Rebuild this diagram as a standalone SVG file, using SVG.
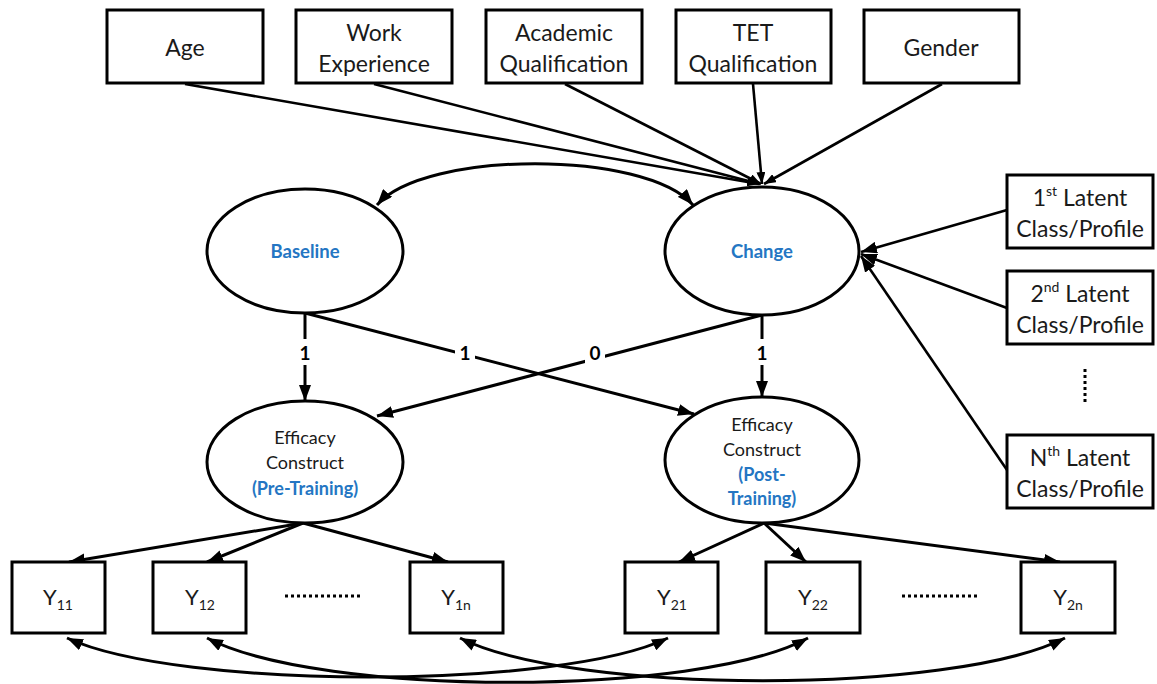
<svg xmlns="http://www.w3.org/2000/svg" width="1157" height="684" viewBox="0 0 1157 684">
  <style>
    .box { fill: #fff; stroke: #000; stroke-width: 3; }
    .ell { fill: #fff; stroke: #000; stroke-width: 3; }
    .lbl { font-family: Lato, "Liberation Sans", sans-serif; font-size: 23px; fill: #1a1a1a; text-anchor: middle; dominant-baseline: central; }
    .lat { font-family: Lato, "Liberation Sans", sans-serif; font-size: 18.5px; font-weight: bold; fill: #2476c3; text-anchor: middle; dominant-baseline: central; }
    .eff { font-family: Lato, "Liberation Sans", sans-serif; font-size: 18px; fill: #1a1a1a; text-anchor: middle; dominant-baseline: central; }
    .effb { font-family: Lato, "Liberation Sans", sans-serif; font-size: 18px; font-weight: bold; fill: #2476c3; text-anchor: middle; dominant-baseline: central; }
    .num { font-family: Lato, "Liberation Sans", sans-serif; font-size: 19px; font-weight: bold; fill: #000; text-anchor: middle; dominant-baseline: central; }
    .ylab { font-family: Lato, "Liberation Sans", sans-serif; font-size: 22px; fill: #1a1a1a; text-anchor: middle; }
    .sub { font-size: 14px; }
    .sup { font-size: 14px; }
    .conn { fill: none; stroke: #000; stroke-width: 3; }
    .thin { fill: none; stroke: #000; stroke-width: 2.6; }
    .dots { fill: none; stroke: #000; stroke-width: 3; stroke-dasharray: 3 3; }
  </style>
  <defs>
    <marker id="arr" viewBox="0 0 16 12" refX="16" refY="6" markerWidth="16" markerHeight="12" markerUnits="userSpaceOnUse" orient="auto-start-reverse">
      <path d="M0,0 L16,6 L0,12 z" fill="#000"/>
    </marker>
    <marker id="arrS" viewBox="0 0 12 9" refX="12" refY="4.5" markerWidth="12" markerHeight="9" markerUnits="userSpaceOnUse" orient="auto">
      <path d="M0,0 L12,4.5 L0,9 z" fill="#000"/>
    </marker>
  </defs>

  <!-- connectors -->
  <g id="connectors">
    <!-- covariates into Change -->
    <line class="thin" x1="185" y1="84" x2="759" y2="184" marker-end="url(#arrS)"/>
    <line class="thin" x1="374" y1="84" x2="760" y2="184" marker-end="url(#arrS)"/>
    <line class="thin" x1="565" y1="84" x2="761" y2="184" marker-end="url(#arrS)"/>
    <line class="thin" x1="753" y1="84" x2="762" y2="184" marker-end="url(#arrS)"/>
    <line class="thin" x1="942" y1="84" x2="764" y2="184" marker-end="url(#arrS)"/>
    <!-- latent classes into Change -->
    <line class="thin" x1="1007" y1="210" x2="861" y2="252" marker-end="url(#arr)"/>
    <line class="thin" x1="1007" y1="308" x2="861" y2="254" marker-end="url(#arr)"/>
    <line class="thin" x1="1007" y1="470" x2="861" y2="256" marker-end="url(#arr)"/>
    <!-- Baseline / Change covariance -->
    <path class="conn" d="M377 205 C425 150 645 150 693 205" marker-start="url(#arr)" marker-end="url(#arr)"/>
    <!-- loadings to efficacy constructs -->
    <line class="conn" x1="305" y1="313" x2="305" y2="401" marker-end="url(#arr)"/>
    <line class="conn" x1="305" y1="313" x2="694" y2="414" marker-end="url(#arr)"/>
    <line class="conn" x1="762" y1="315" x2="377" y2="416" marker-end="url(#arr)"/>
    <line class="conn" x1="762" y1="315" x2="762" y2="397" marker-end="url(#arr)"/>
    <!-- indicators -->
    <line class="conn" x1="303" y1="523" x2="69" y2="562" marker-end="url(#arr)"/>
    <line class="conn" x1="303" y1="523" x2="207" y2="562" marker-end="url(#arr)"/>
    <line class="conn" x1="303" y1="523" x2="448" y2="562" marker-end="url(#arr)"/>
    <line class="conn" x1="764" y1="523" x2="679" y2="562" marker-end="url(#arr)"/>
    <line class="conn" x1="764" y1="523" x2="806" y2="562" marker-end="url(#arr)"/>
    <line class="conn" x1="764" y1="523" x2="1060" y2="562" marker-end="url(#arr)"/>
    <!-- residual covariances -->
    <path class="conn" d="M67 638 C180 690 560 690 668 638" marker-start="url(#arr)" marker-end="url(#arr)"/>
    <path class="conn" d="M207 638 C320 697 700 697 808 638" marker-start="url(#arr)" marker-end="url(#arr)"/>
    <path class="conn" d="M460 638 C573 695 953 695 1065 638" marker-start="url(#arr)" marker-end="url(#arr)"/>
    <!-- path labels -->
    <rect x="295" y="339" width="20" height="26" fill="#fff"/>
    <text class="num" x="305" y="352">1</text>
    <rect x="455" y="339" width="20" height="26" fill="#fff"/>
    <text class="num" x="465" y="352">1</text>
    <rect x="585" y="339" width="20" height="26" fill="#fff"/>
    <text class="num" x="595" y="352">0</text>
    <rect x="752" y="339" width="20" height="26" fill="#fff"/>
    <text class="num" x="762" y="352">1</text>
  </g>

  <!-- covariates -->
  <g id="age"><rect class="box" x="107" y="10" width="156" height="73"/><text class="lbl" x="185" y="47">Age</text></g>
  <g id="work"><rect class="box" x="296" y="10" width="156" height="73"/><text class="lbl" x="374" y="32">Work</text><text class="lbl" x="374" y="63">Experience</text></g>
  <g id="academic"><rect class="box" x="486" y="10" width="156" height="73"/><text class="lbl" x="564" y="32">Academic</text><text class="lbl" x="564" y="63">Qualification</text></g>
  <g id="tet"><rect class="box" x="676" y="10" width="155" height="73"/><text class="lbl" x="753" y="32">TET</text><text class="lbl" x="753" y="63">Qualification</text></g>
  <g id="gender"><rect class="box" x="864" y="10" width="155" height="73"/><text class="lbl" x="941" y="47">Gender</text></g>

  <!-- growth factors -->
  <g id="baseline"><ellipse class="ell" cx="305" cy="251" rx="98" ry="62"/><text class="lat" x="305" y="251">Baseline</text></g>
  <g id="change"><ellipse class="ell" cx="762" cy="251" rx="97" ry="64"/><text class="lat" x="762" y="251">Change</text></g>

  <!-- latent classes -->
  <g id="class1"><rect class="box" x="1007" y="175" width="146" height="73"/><text class="lbl" x="1080" y="197">1<tspan class="sup" dy="-7">st</tspan><tspan dy="7"> Latent</tspan></text><text class="lbl" x="1080" y="228">Class/Profile</text></g>
  <g id="class2"><rect class="box" x="1007" y="271" width="146" height="73"/><text class="lbl" x="1080" y="293">2<tspan class="sup" dy="-7">nd</tspan><tspan dy="7"> Latent</tspan></text><text class="lbl" x="1080" y="324">Class/Profile</text></g>
  <line class="dots" x1="1085" y1="369" x2="1085" y2="403"/>
  <g id="classN"><rect class="box" x="1007" y="435" width="146" height="73"/><text class="lbl" x="1080" y="457">N<tspan class="sup" dy="-7">th</tspan><tspan dy="7"> Latent</tspan></text><text class="lbl" x="1080" y="488">Class/Profile</text></g>

  <!-- efficacy constructs -->
  <g id="pre"><ellipse class="ell" cx="305" cy="462" rx="98" ry="61"/><text class="eff" x="305" y="437">Efficacy</text><text class="eff" x="305" y="462">Construct</text><text class="effb" x="305" y="488">(Pre-Training)</text></g>
  <g id="post"><ellipse class="ell" cx="762" cy="460" rx="97" ry="63"/><text class="eff" x="762" y="424">Efficacy</text><text class="eff" x="762" y="449">Construct</text><text class="effb" x="762" y="474">(Post-</text><text class="effb" x="762" y="498">Training)</text></g>

  <!-- indicators -->
  <g id="y11"><rect class="box" x="12" y="562" width="93" height="71"/><text class="ylab" x="58" y="605">Y<tspan class="sub" dy="5">11</tspan></text></g>
  <g id="y12"><rect class="box" x="153" y="562" width="93" height="71"/><text class="ylab" x="200" y="605">Y<tspan class="sub" dy="5">12</tspan></text></g>
  <line class="dots" x1="285" y1="596" x2="363" y2="596"/>
  <g id="y1n"><rect class="box" x="410" y="562" width="93" height="71"/><text class="ylab" x="456" y="605">Y<tspan class="sub" dy="5">1n</tspan></text></g>
  <g id="y21"><rect class="box" x="625" y="562" width="93" height="71"/><text class="ylab" x="672" y="605">Y<tspan class="sub" dy="5">21</tspan></text></g>
  <g id="y22"><rect class="box" x="766" y="562" width="94" height="71"/><text class="ylab" x="813" y="605">Y<tspan class="sub" dy="5">22</tspan></text></g>
  <line class="dots" x1="902" y1="596" x2="980" y2="596"/>
  <g id="y2n"><rect class="box" x="1021" y="562" width="94" height="71"/><text class="ylab" x="1068" y="605">Y<tspan class="sub" dy="5">2n</tspan></text></g>
</svg>
